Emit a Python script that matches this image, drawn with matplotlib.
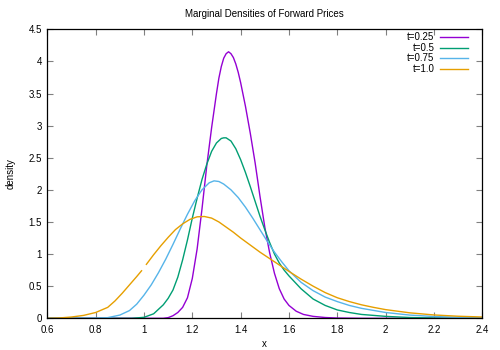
import matplotlib
matplotlib.use('Agg')
import matplotlib.pyplot as plt
import numpy as np

plt.rcParams['font.family'] = ['Liberation Sans', 'DejaVu Sans']

# t=0.25
x1 = [0.6, 1.08, 1.10, 1.12, 1.14, 1.16, 1.18, 1.20, 1.22, 1.24, 1.26, 1.28, 1.30,
      1.31, 1.32, 1.33, 1.34, 1.35, 1.36, 1.37, 1.38, 1.39, 1.40, 1.42, 1.44, 1.46,
      1.48, 1.50, 1.52, 1.54, 1.56, 1.58, 1.60, 1.63, 1.66, 1.70, 1.75, 1.80, 1.90, 2.4]
y1 = [0.0, 0.0, 0.01, 0.04, 0.09, 0.17, 0.32, 0.62, 1.08, 1.70, 2.38, 2.97, 3.50,
      3.74, 3.92, 4.05, 4.12, 4.15, 4.12, 4.06, 3.96, 3.83, 3.67, 3.30, 2.88, 2.42,
      1.90, 1.42, 1.02, 0.70, 0.46, 0.30, 0.20, 0.11, 0.06, 0.03, 0.012, 0.004, 0.0, 0.0]

# t=0.5
x2 = [0.6, 0.95, 1.00, 1.04, 1.08, 1.10, 1.12, 1.14, 1.16, 1.18, 1.20, 1.22, 1.24,
      1.26, 1.28, 1.30, 1.32, 1.33, 1.34, 1.36, 1.38, 1.40, 1.42, 1.44, 1.46, 1.48,
      1.50, 1.52, 1.54, 1.56, 1.58, 1.60, 1.65, 1.70, 1.75, 1.80, 1.85, 1.90, 2.00,
      2.10, 2.20, 2.40]
y2 = [0.0, 0.0, 0.015, 0.07, 0.21, 0.31, 0.44, 0.64, 0.91, 1.22, 1.56, 1.87, 2.16,
      2.40, 2.60, 2.73, 2.80, 2.81, 2.81, 2.76, 2.64, 2.47, 2.27, 2.05, 1.82, 1.59,
      1.38, 1.18, 1.00, 0.86, 0.75, 0.66, 0.46, 0.30, 0.20, 0.13, 0.09, 0.06, 0.03,
      0.012, 0.005, 0.0]

# t=0.75
x3 = [0.6, 0.80, 0.85, 0.90, 0.94, 0.97, 1.00, 1.03, 1.06, 1.09, 1.12, 1.15, 1.18,
      1.21, 1.24, 1.27, 1.29, 1.31, 1.33, 1.36, 1.39, 1.42, 1.45, 1.48, 1.51, 1.54,
      1.57, 1.60, 1.65, 1.70, 1.75, 1.80, 1.85, 1.90, 2.00, 2.10, 2.20, 2.30, 2.40]
y3 = [0.0, 0.0, 0.01, 0.05, 0.12, 0.22, 0.36, 0.52, 0.71, 0.92, 1.15, 1.39, 1.62,
      1.83, 2.00, 2.11, 2.14, 2.13, 2.09, 2.00, 1.88, 1.73, 1.56, 1.38, 1.20, 1.03,
      0.88, 0.74, 0.56, 0.43, 0.33, 0.26, 0.20, 0.155, 0.09, 0.05, 0.028, 0.015, 0.008]

# t=1.0 (gap near x=1)
x4 = [0.60, 0.65, 0.70, 0.75, 0.80, 0.85, 0.88, 0.91, 0.94, 0.97, 0.99, 1.00, 1.01,
      1.04, 1.07, 1.10, 1.13, 1.16, 1.19, 1.22, 1.25, 1.28, 1.31, 1.34, 1.37, 1.40,
      1.44, 1.48, 1.52, 1.56, 1.60, 1.65, 1.70, 1.75, 1.80, 1.85, 1.90, 1.95, 2.00,
      2.10, 2.20, 2.30, 2.40]
y4 = [0.0, 0.005, 0.02, 0.045, 0.09, 0.17, 0.27, 0.39, 0.52, 0.65, 0.74, np.nan, 0.84,
      0.99, 1.13, 1.26, 1.38, 1.47, 1.54, 1.58, 1.585, 1.56, 1.50, 1.42, 1.34, 1.25,
      1.14, 1.03, 0.93, 0.83, 0.73, 0.61, 0.50, 0.40, 0.32, 0.26, 0.21, 0.17, 0.135,
      0.085, 0.052, 0.032, 0.02]

labels = ['t=0.25', 't=0.5', 't=0.75', 't=1.0']
colors = ['#9400D3', '#009E73', '#56B4E9', '#E69F00']
xticks = [0.6, 0.8, 1.0, 1.2, 1.4, 1.6, 1.8, 2.0, 2.2, 2.4]
xticklabels = ['0.6', '0.8', '1', '1.2', '1.4', '1.6', '1.8', '2', '2.2', '2.4']
yticks = [0, 0.5, 1, 1.5, 2, 2.5, 3, 3.5, 4, 4.5]
yticklabels = ['0', '0.5', '1', '1.5', '2', '2.5', '3', '3.5', '4', '4.5']

fig = plt.figure(figsize=(5, 3.5), dpi=100)
ax = fig.add_axes([0.0946, 0.0906, 0.87, 0.8257])

for xs, ys, c in zip([x1, x2, x3, x4], [y1, y2, y3, y4], colors):
    ax.plot(xs, ys, color=c, lw=1.0)

ax.set_xlim(0.6, 2.4)
ax.set_ylim(0, 4.5)
ax.set_xticks(xticks)
ax.set_xticklabels(xticklabels)
ax.set_yticks(yticks)
ax.set_yticklabels(yticklabels)
ax.tick_params(direction='in', length=4, width=0.8, color='#808080',
               top=True, right=True, labelsize=7, pad=4)
ax.tick_params(axis='x', pad=5)
for s in ax.spines.values():
    s.set_linewidth(0.9)
    s.set_color('black')

ax.set_xlabel('x', fontsize=7, labelpad=3)
ax.set_ylabel('density', fontsize=7, labelpad=9)
ax.set_title('Marginal Densities of Forward Prices', fontsize=7, pad=9)

# gnuplot-style key: right-aligned labels, sample line after
for i, (lab, c) in enumerate(zip(labels, colors)):
    yy = 0.972 - i * 0.0359
    ax.text(0.8896, yy, lab, transform=ax.transAxes, ha='right', va='center', fontsize=7)
    ax.plot([0.903, 0.967], [yy, yy], transform=ax.transAxes, color=c, lw=1.0)

fig.savefig('out.png', dpi=100, facecolor='white')
